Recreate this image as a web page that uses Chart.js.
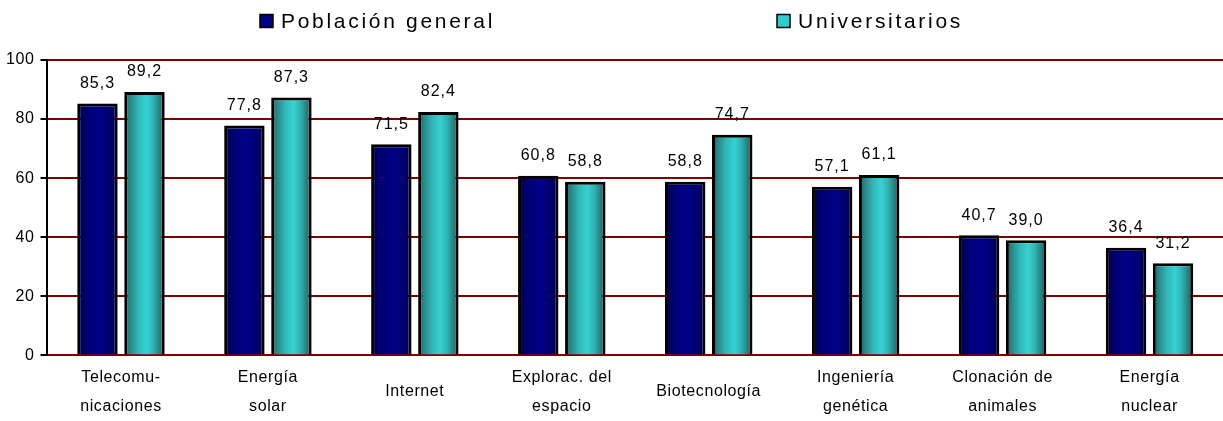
<!DOCTYPE html>
<html>
<head>
<meta charset="utf-8">
<script src="https://cdn.jsdelivr.net/npm/chart.js@4"></script>
<style>
  html, body { margin: 0; padding: 0; background: #fff; }
  #wrap { width: 1223px; height: 421px; position: relative; overflow: hidden; }
</style>
</head>
<body>
<div id="wrap"><canvas id="chart" width="1223" height="421"></canvas></div>
<script>
const categories = [
  ['Telecomu-', 'nicaciones'],
  ['Energía', 'solar'],
  'Internet',
  ['Explorac. del', 'espacio'],
  'Biotecnología',
  ['Ingeniería', 'genética'],
  ['Clonación de', 'animales'],
  ['Energía', 'nuclear']
];
const seriesNames = ['Población general', 'Universitarios'];
const poblacionGeneral = [85.3, 77.8, 71.5, 60.8, 58.8, 57.1, 40.7, 36.4];
const universitarios = [89.2, 87.3, 82.4, 58.8, 74.7, 61.1, 39.0, 31.2];
const yMin = 0, yMax = 100, yStep = 20;

const FONT = '"Liberation Sans", Arial, sans-serif';
const CAT_PCT = 0.64;
const BAR_PCT = 0.86;

const blueStops = [[0, '#000048'], [0.3, '#00007a'], [0.55, '#000088'], [0.8, '#000070'], [1, '#000044']];
const cyanStops = [[0, '#1d5e5e'], [0.15, '#2a8888'], [0.35, '#31b8b8'], [0.55, '#36d2d2'], [0.72, '#30b2b2'], [0.88, '#267e7e'], [1, '#1b5a5a']];

function barGradient(stops, dsIndex) {
  return function (ctx) {
    const chart = ctx.chart;
    const area = chart.chartArea;
    if (ctx.type !== 'data' || !area) {
      return stops[2][1];
    }
    const xScale = chart.scales.x;
    const catW = area.width / categories.length;
    const slot = catW * CAT_PCT / 2;
    const cx = xScale.getPixelForValue(ctx.dataIndex) + (dsIndex === 0 ? -slot / 2 : slot / 2);
    const half = slot * BAR_PCT / 2;
    const g = chart.ctx.createLinearGradient(cx - half, 0, cx + half, 0);
    stops.forEach(s => g.addColorStop(s[0], s[1]));
    return g;
  };
}

const spacingPlugin = {
  id: 'spacing',
  beforeUpdate: function (chart) { chart.ctx.letterSpacing = '0.6px'; },
  beforeDraw: function (chart) { chart.ctx.letterSpacing = '0.6px'; }
};

const valueLabels = {
  id: 'valueLabels',
  afterDatasetsDraw: function (chart) {
    const ctx = chart.ctx;
    ctx.save();
    ctx.font = '16px ' + FONT;
    ctx.letterSpacing = '1px';
    ctx.fillStyle = '#000';
    ctx.textAlign = 'center';
    ctx.textBaseline = 'middle';
    chart.data.datasets.forEach((ds, i) => {
      chart.getDatasetMeta(i).data.forEach((bar, j) => {
        const txt = ds.data[j].toFixed(1).replace('.', ',');
        ctx.fillText(txt, bar.x, bar.y - 20);
      });
    });
    ctx.restore();
  }
};

const topLegend = {
  id: 'topLegend',
  afterDraw: function (chart) {
    const ctx = chart.ctx;
    ctx.save();
    ctx.font = '21px ' + FONT;
    ctx.letterSpacing = '2.7px';
    ctx.textBaseline = 'middle';
    const box = 13, gap = 8, itemGap = 282;
    const fills = ['#000080', '#33cccc'];
    const widths = seriesNames.map(n => ctx.measureText(n).width);
    const total = widths.reduce((a, w) => a + box + gap + w, 0) + itemGap;
    let x = (chart.width - total) / 2;
    const y = 21;
    seriesNames.forEach((name, i) => {
      ctx.fillStyle = fills[i];
      ctx.fillRect(x, y - box / 2, box, box);
      ctx.strokeStyle = '#000';
      ctx.lineWidth = 1.5;
      ctx.strokeRect(x, y - box / 2, box, box);
      ctx.fillStyle = '#000';
      ctx.fillText(name, x + box + gap, y + 1);
      x += box + gap + widths[i] + itemGap;
    });
    ctx.restore();
  }
};

new Chart(document.getElementById('chart'), {
  type: 'bar',
  data: {
    labels: categories,
    datasets: [{
      label: seriesNames[0],
      data: poblacionGeneral,
      backgroundColor: barGradient(blueStops, 0),
      borderColor: '#000',
      borderWidth: 3,
      categoryPercentage: CAT_PCT,
      barPercentage: BAR_PCT
    }, {
      label: seriesNames[1],
      data: universitarios,
      backgroundColor: barGradient(cyanStops, 1),
      borderColor: '#000',
      borderWidth: 3,
      categoryPercentage: CAT_PCT,
      barPercentage: BAR_PCT
    }]
  },
  options: {
    responsive: false,
    animation: false,
    // tick padding is counted twice below the axis, so pull the bottom back
    layout: { padding: { top: 60, right: 0, left: 0, bottom: -36 } },
    plugins: {
      legend: { display: false },
      tooltip: { enabled: false }
    },
    scales: {
      x: {
        grid: { display: false, drawTicks: false },
        border: { display: false },
        ticks: {
          color: '#000',
          font: { family: FONT, size: 16, lineHeight: 1.8 },
          padding: 22,
          crossAlign: 'center',
          maxRotation: 0,
          autoSkip: false
        }
      },
      y: {
        min: yMin,
        max: yMax,
        ticks: {
          stepSize: yStep,
          color: '#000',
          font: { family: FONT, size: 16 },
          padding: 6
        },
        grid: {
          color: '#800000',
          lineWidth: 2,
          tickColor: '#000',
          tickLength: 7
        },
        border: { color: '#000', width: 2 }
      }
    }
  },
  plugins: [spacingPlugin, valueLabels, topLegend]
});
</script>
</body>
</html>
